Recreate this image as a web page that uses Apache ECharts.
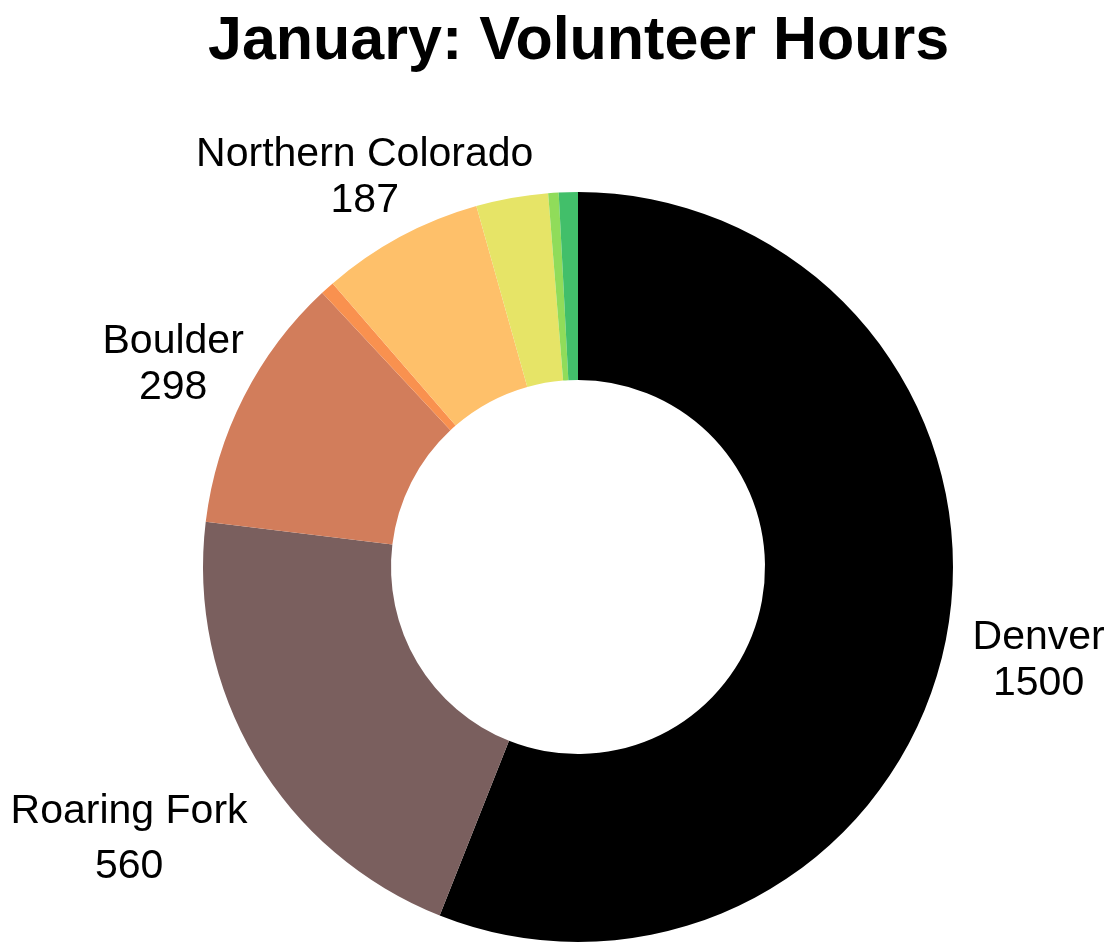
<!DOCTYPE html>
<html>
<head>
	<meta charset="utf-8">
	<title>January: Volunteer Hours</title>
	<style>
		html, body { margin: 0; padding: 0; background: #fff; }
		#chart1 { width: 1106px; height: 944px; }
	</style>
</head>
<body>
	<div id="chart1"></div>

	<script src="https://cdn.jsdelivr.net/npm/echarts@6/dist/echarts.min.js"></script>
	<script type="text/javascript">

    // chapters, clockwise from 12 o'clock
    var names = ['Denver', 'Roaring Fork', 'Boulder', 'Pikes Peak', 'Northern Colorado', 'Southern Colorado', 'Western Slope', 'Mountain'];
    var values = [1500, 560, 298, 16, 187, 83, 12, 22];
    var colors = ['#000000', '#7a5f5e', '#d27d5b', '#f9914f', '#fec06a', '#e6e467', '#90dc5a', '#42bf6a'];
    var labelMin = 100;

    function show(){
        var dom = document.getElementById('chart1');
        var myChart = echarts.init(dom);

        var data = [], labelData = [];
        for (var i = 0; i < names.length; i++) {
            data.push({name: names[i], value: values[i], itemStyle: {color: colors[i]}});
            var lbl = {show: values[i] >= labelMin};
            if (names[i] === 'Roaring Fork') lbl.lineHeight = 55;
            labelData.push({name: names[i], value: values[i], label: lbl});
        }

        // small nudges so labels sit like the original
        var nudge = {
            'Denver': [-2, 5],
            'Roaring Fork': [-44, 32],
            'Boulder': [15, 11],
            'Northern Colorado': [10, 25]
        };

        var option = {
            title: {
                text: 'January: Volunteer Hours',
                left: 203,
                top: 7,
                textStyle: {
                    fontFamily: 'Liberation Sans, Arial, sans-serif',
                    fontSize: 61,
                    fontWeight: 'bold',
                    color: '#000'
                }
            },
            series: [
                {
                    type: 'pie',
                    center: [578, 567],
                    radius: [187, 375],
                    startAngle: 90,
                    clockwise: true,
                    silent: true,
                    label: {show: false},
                    labelLine: {show: false},
                    itemStyle: {borderWidth: 0},
                    data: data
                },
                {
                    // invisible ring only to place the labels
                    type: 'pie',
                    center: [578, 567],
                    radius: [466, 470],
                    startAngle: 90,
                    clockwise: true,
                    silent: true,
                    itemStyle: {color: 'rgba(0,0,0,0)'},
                    labelLine: {show: false},
                    label: {
                        position: 'inside',
                        formatter: '{b}\n{c}',
                        fontFamily: 'Liberation Sans, Arial, sans-serif',
                        fontSize: 41,
                        lineHeight: 46,
                        color: '#000',
                        align: 'center'
                    },
                    labelLayout: function (params) {
                        var n = nudge[names[params.dataIndex]];
                        return n ? {dx: n[0], dy: n[1]} : {};
                    },
                    data: labelData
                }
            ]
        };
        myChart.setOption(option, true);
    }

    show();

	</script>
</body>
</html>
